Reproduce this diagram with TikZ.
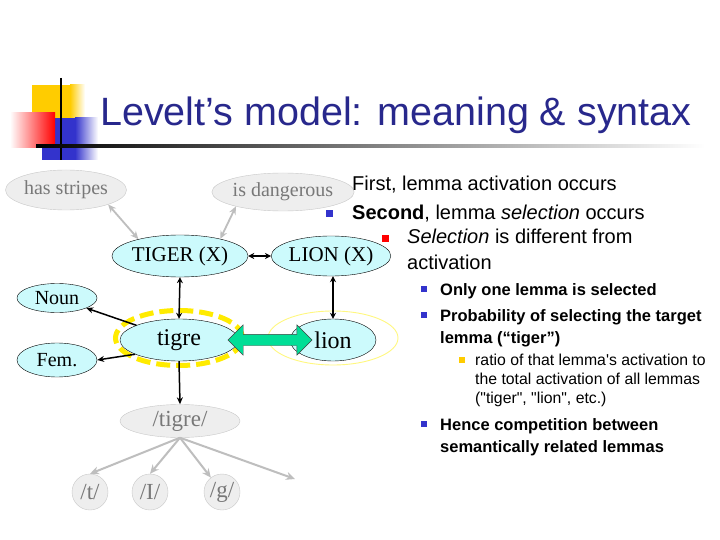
\documentclass[tikz,border=0pt]{standalone}
\usepackage{fontspec}
\setmainfont{Liberation Serif}
\newfontfamily\slidefont{Liberation Sans}
\usetikzlibrary{shapes.geometric, shapes.arrows, arrows.meta, positioning, calc}

\definecolor{titleblue}{RGB}{40, 40, 140}
\definecolor{lexcyan}{RGB}{204, 250, 252}
\definecolor{semfill}{RGB}{238, 238, 238}
\definecolor{semline}{RGB}{200, 200, 200}
\definecolor{semtext}{RGB}{120, 120, 120}
\definecolor{arrowgray}{RGB}{190, 190, 190}
\definecolor{glowyellow}{RGB}{255, 235, 0}
\definecolor{swapgreen}{RGB}{0, 222, 150}
\definecolor{deckyellow}{RGB}{255, 204, 0}
\definecolor{deckblue}{RGB}{51, 51, 204}
\definecolor{deckred}{RGB}{255, 0, 0}

\tikzset{
  lexnode/.style={ellipse, draw=black, fill=lexcyan, inner sep=0pt},
  semnode/.style={ellipse, draw=semline, fill=semfill, text=semtext, inner sep=0pt},
  phonnode/.style={circle, draw=semline, fill=semfill, text=semtext, minimum size=36pt, inner sep=0pt, font=\fontsize{23}{26}\selectfont},
  blacklink/.style={line width=1.5pt, {Stealth[length=6pt, width=6pt]}-{Stealth[length=6pt, width=6pt]}},
  downlink/.style={line width=1.5pt, -{Stealth[length=7pt, width=6pt]}},
  graylink/.style={line width=2pt, draw=arrowgray, -{Stealth[length=9pt, width=8pt]}},
  graybilink/.style={line width=1.8pt, draw=arrowgray, {Stealth[length=8pt, width=7pt]}-{Stealth[length=8pt, width=7pt]}},
  itemone/.style={anchor=base west, inner sep=0pt, align=left, font=\slidefont\fontsize{20}{25}\selectfont},
  itemthree/.style={anchor=base west, inner sep=0pt, align=left, font=\slidefont\bfseries\fontsize{16.5}{22}\selectfont},
  itemfour/.style={anchor=base west, inner sep=0pt, align=left, font=\slidefont\fontsize{15.8}{19}\selectfont}
}

\begin{document}
\begin{tikzpicture}[x=1pt, y=-1pt]
  \useasboundingbox[fill=white] (0,0) rectangle (720,540);

  % corner decoration
  \fill[deckyellow] (32,85) rectangle (70,118);
  \shade[left color=deckyellow, right color=white] (70,85) rectangle (85,118);
  \fill[deckblue] (42,118) rectangle (75,160);
  \shade[left color=deckblue, right color=white] (75,118) rectangle (98,160);
  \shade[left color=white, right color=deckred] (10,113) rectangle (55,148);
  \draw[line width=2pt] (61,78) -- (61,160);
  \shade[left color=black, right color=white] (36,144.5) rectangle (705,148);

  % title
  \node (title) [anchor=base west, inner sep=0pt, text=titleblue, font=\slidefont\fontsize{39.5}{44}\selectfont] at (100,126) {Levelt’s model: meaning \& syntax};

  % conceptual level
  \node (stripes) [semnode, minimum width=121pt, minimum height=40pt, font=\fontsize{20}{24}\selectfont] at (66,190) {has stripes};
  \node (danger) [semnode, minimum width=110pt, minimum height=38pt, font=\fontsize{20}{24}\selectfont] at (283,192) {is dangerous};
  \node (TIGER) [lexnode, minimum width=120pt, minimum height=42pt, font=\fontsize{21}{24}\selectfont] at (180,256) {TIGER (X)};
  \node (LION) [lexnode, minimum width=98pt, minimum height=40pt, font=\fontsize{21}{24}\selectfont] at (331,256) {LION (X)};

  % lemma level
  \node (tigreglow) [ellipse, draw=glowyellow, line width=5pt, dash pattern=on 14pt off 6pt, minimum width=127pt, minimum height=55pt, inner sep=0pt] at (179,338) {};
  \node (lionglow) [ellipse, draw=yellow!50, line width=0.9pt, minimum width=130pt, minimum height=54pt, inner sep=0pt] at (333,338) {};
  \node (tigre) [lexnode, minimum width=118pt, minimum height=42pt, font=\fontsize{24}{28}\selectfont] at (179,340) {tigre};
  \node (lion) [lexnode, minimum width=86pt, minimum height=42pt, font=\fontsize{24}{28}\selectfont] at (333,340) {lion};
  \node (Noun) [lexnode, minimum width=80pt, minimum height=29pt, font=\fontsize{20}{24}\selectfont] at (57,298) {Noun};
  \node (Fem) [lexnode, minimum width=80pt, minimum height=34pt, font=\fontsize{20}{24}\selectfont] at (57,360) {Fem.};
  \node (swap) [double arrow, draw=black!75, fill=swapgreen, minimum height=84pt, inner sep=5.5pt, double arrow head extend=9.5pt] at (270,340) {};

  % word form level
  \node (tigreform) [semnode, minimum width=120pt, minimum height=33pt, font=\fontsize{23}{26}\selectfont] at (180,421) {/tigre/};
  \node (pt) [phonnode] at (90,492) {/t/};
  \node (pI) [phonnode] at (150,492) {/I/};
  \node (pg) [phonnode] at (222,492) {/g/};
  \coordinate (pmore) at (295,479);

  % connectors
  \draw[graybilink] (stripes.-19) -- (TIGER.158);
  \draw[graybilink] (danger.197) -- (TIGER.23);
  \draw[blacklink] (TIGER.east) -- (LION.west);
  \draw[blacklink] (TIGER.south) -- (tigre.north);
  \draw[blacklink] (LION.south -| lion.north) -- (lion.north);
  \draw[downlink] (tigre) -- (Noun);
  \draw[downlink] (tigre.198) -- (Fem.east);
  \draw[downlink] (tigre.south) -- (tigreform.north);
  \draw[graylink] (tigreform.south) -- (pt.north);
  \draw[graylink] (tigreform.south) -- (pI.north);
  \draw[graylink] (tigreform.south) -- (pg);
  \draw[graylink] (tigreform.south) -- (pmore);

  % bullet text (multi-line nodes sit on their last line)
  \node (first) [itemone] at (352,191) {First, lemma activation occurs};
  \fill[deckblue] (326,210) rectangle +(7,7);
  \node (second) [itemone] at (352,219) {\textbf{Second}, lemma \textit{selection} occurs};
  \fill[deckred] (382,235) rectangle +(7,7);
  \node (differ) [itemone] at (407,269) {\textit{Selection} is different from\\activation};
  \fill[deckblue] (421,286) rectangle +(5.5,5.5);
  \node (onlyone) [itemthree] at (440,295) {Only one lemma is selected};
  \fill[deckblue] (421,312) rectangle +(5.5,5.5);
  \node (prob) [itemthree] at (440,343) {Probability of selecting the target\\lemma (“tiger”)};
  \fill[deckyellow] (459,357) rectangle +(6,6);
  \node (ratio) [itemfour] at (475,403.5) {ratio of that lemma\textquotesingle s activation to\\the total activation of all lemmas\\("tiger", "lion", etc.)};
  \fill[deckblue] (421,421) rectangle +(5.5,5.5);
  \node (hence) [itemthree] at (440,452) {Hence competition between\\semantically related lemmas};
\end{tikzpicture}
\end{document}
